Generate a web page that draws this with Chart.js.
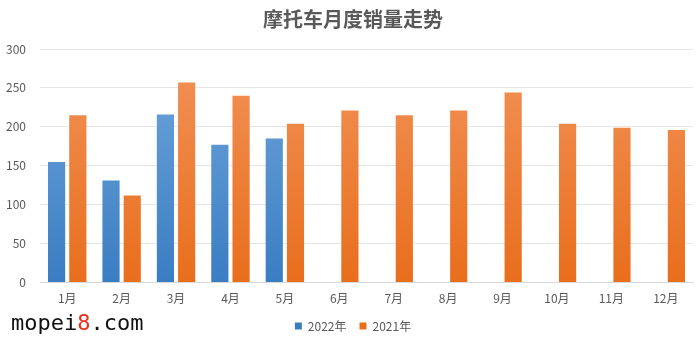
<!DOCTYPE html>
<html>
<head>
<meta charset="utf-8">
<script src="https://cdn.jsdelivr.net/npm/chart.js@4/dist/chart.umd.min.js"></script>
<style>
  html, body { margin: 0; padding: 0; background: #fff; }
  #wrap { position: relative; width: 700px; height: 347px; overflow: hidden; }
  #site {
    position: absolute; left: 11px; top: 309px; line-height: 28px;
    font-family: "DejaVu Sans Mono", monospace; font-size: 22px; color: #111;
  }
  #site span { color: #e8311a; }
</style>
</head>
<body>
<div id="wrap">
  <canvas id="salesChart" width="700" height="347"></canvas>
  <div id="site">mopei<span>8</span>.com</div>
</div>
<script>
var months = ['1月', '2月', '3月', '4月', '5月', '6月', '7月', '8月', '9月', '10月', '11月', '12月'];
var sales2022 = [155, 131, 216, 177, 185, null, null, null, null, null, null, null];
var sales2021 = [215, 112, 257, 240, 204, 221, 215, 221, 244, 204, 199, 196];
var yTicks = [0, 50, 100, 150, 200, 250, 300];

// vertical gradient over the plot area, light at the top
function barFill(top, bottom) {
    return function (context) {
        var area = context.chart.chartArea;
        if (!area) return bottom;
        var g = context.chart.ctx.createLinearGradient(0, area.top, 0, area.bottom);
        g.addColorStop(0, top);
        g.addColorStop(1, bottom);
        return g;
    };
}

document.addEventListener('DOMContentLoaded', function () {
    var ctx = document.getElementById('salesChart').getContext('2d');
    var font = '"Noto Sans CJK SC", "Noto Sans", sans-serif';

    new Chart(ctx, {
        type: 'bar',
        data: {
            labels: months,
            datasets: [
                {
                    label: '2022年',
                    data: sales2022,
                    backgroundColor: barFill('#72a7dc', '#3a7dc2'),
                    categoryPercentage: 0.78,
                    barPercentage: 0.81
                },
                {
                    label: '2021年',
                    data: sales2021,
                    backgroundColor: barFill('#f2935a', '#e86e1c'),
                    categoryPercentage: 0.78,
                    barPercentage: 0.81
                }
            ]
        },
        options: {
            responsive: false,
            animation: false,
            // box runs a little past the right edge so title/legend sit right of centre
            layout: { padding: { left: 0, right: -6, top: 4, bottom: 5 } },
            plugins: {
                title: {
                    display: true,
                    text: '摩托车月度销量走势',
                    color: '#595959',
                    font: { family: font, size: 20, weight: 'bold' },
                    padding: { top: 3, bottom: 18 }
                },
                legend: {
                    position: 'bottom',
                    labels: {
                        boxWidth: 7,
                        boxHeight: 7,
                        padding: 13,
                        color: '#595959',
                        font: { family: font, size: 12 }
                    }
                },
                tooltip: { enabled: false }
            },
            scales: {
                x: {
                    grid: { display: false },
                    border: { color: '#d9d9d9' },
                    ticks: { color: '#595959', font: { family: font, size: 12 }, padding: 1 }
                },
                y: {
                    min: 0,
                    max: 300,
                    afterBuildTicks: function (axis) {
                        axis.ticks = yTicks.map(function (v) { return { value: v }; });
                    },
                    afterFit: function (axis) { axis.width = 40; },
                    grid: { color: '#e6e6e6', drawTicks: false },
                    border: { display: false },
                    ticks: { color: '#595959', font: { family: font, size: 12 }, padding: 14 }
                },
                // empty right gutter
                yRight: {
                    type: 'linear',
                    position: 'right',
                    afterFit: function (axis) { axis.width = 13; },
                    grid: { display: false },
                    border: { display: false },
                    ticks: { display: false }
                }
            }
        }
    });
});
</script>
</body>
</html>
